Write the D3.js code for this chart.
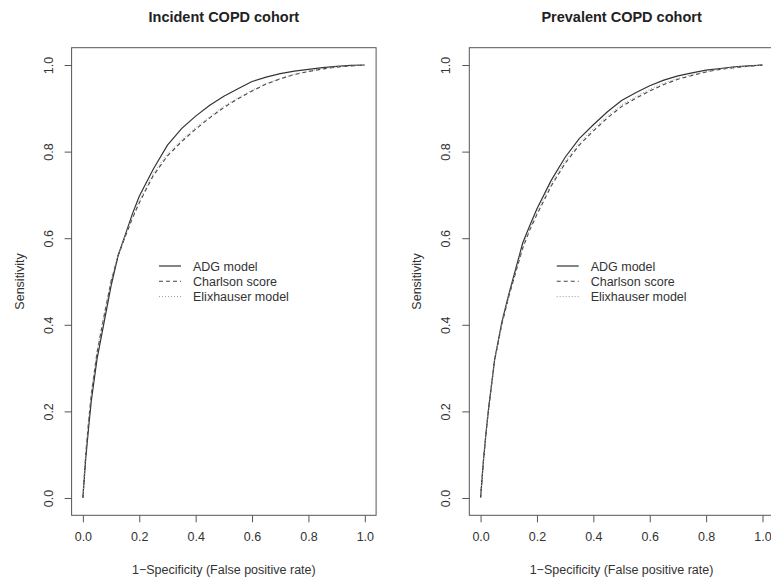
<!DOCTYPE html>
<html>
<head>
<meta charset="utf-8">
<script src="https://cdn.jsdelivr.net/npm/d3@7.9.0/dist/d3.min.js"></script>
<style>
  body { margin: 0; background: #fff; }
  svg { font-family: "Liberation Sans", Arial, sans-serif; }
</style>
</head>
<body>
<svg id="chart" width="771" height="583"></svg>
<script>
// shared false positive rate grid (x values)
const fpr = [0, 0.01, 0.02, 0.03, 0.05, 0.075, 0.1, 0.125, 0.15, 0.175, 0.2, 0.25, 0.3, 0.35,
  0.4, 0.45, 0.5, 0.55, 0.6, 0.65, 0.7, 0.75, 0.8, 0.85, 0.9, 0.95, 1];

// incident cohort sensitivities
const incidentADG = [0, 0.09, 0.16, 0.225, 0.32, 0.405, 0.49, 0.56, 0.607, 0.655, 0.697, 0.76, 0.815, 0.853,
  0.882, 0.907, 0.928, 0.945, 0.962, 0.972, 0.98, 0.986, 0.99, 0.994, 0.997, 0.999, 1];
const incidentCharlson = [0, 0.1, 0.175, 0.24, 0.335, 0.42, 0.5, 0.56, 0.603, 0.645, 0.682, 0.745, 0.79, 0.823,
  0.852, 0.878, 0.902, 0.922, 0.94, 0.956, 0.968, 0.978, 0.985, 0.991, 0.995, 0.998, 1];
const incidentElix = [0, 0.105, 0.18, 0.245, 0.34, 0.425, 0.503, 0.562, 0.606, 0.648, 0.686, 0.75, 0.795, 0.827,
  0.856, 0.881, 0.905, 0.924, 0.942, 0.957, 0.969, 0.979, 0.986, 0.992, 0.996, 0.998, 1];

// prevalent cohort sensitivities
const prevalentADG = [0, 0.085, 0.155, 0.215, 0.32, 0.405, 0.47, 0.53, 0.59, 0.63, 0.668, 0.733, 0.787, 0.83,
  0.862, 0.892, 0.918, 0.936, 0.952, 0.965, 0.975, 0.982, 0.988, 0.992, 0.996, 0.998, 1];
const prevalentCharlson = [0, 0.085, 0.155, 0.215, 0.318, 0.4, 0.465, 0.522, 0.578, 0.62, 0.655, 0.72, 0.773, 0.815,
  0.848, 0.878, 0.904, 0.923, 0.94, 0.955, 0.967, 0.976, 0.984, 0.99, 0.994, 0.997, 1];
const prevalentElix = [0, 0.087, 0.157, 0.217, 0.32, 0.402, 0.467, 0.525, 0.582, 0.624, 0.66, 0.725, 0.778, 0.82,
  0.853, 0.883, 0.908, 0.927, 0.944, 0.958, 0.969, 0.978, 0.985, 0.99, 0.995, 0.997, 1];

const ticks = [0, 0.2, 0.4, 0.6, 0.8, 1.0];
const seriesNames = ["ADG model", "Charlson score", "Elixhauser model"];

const styles = [
  { stroke: "#333", dash: null, width: 1.2 },
  { stroke: "#444", dash: "4,3", width: 1.1 },
  { stroke: "#999", dash: "1,2", width: 1 }
];

const svg = d3.select("#chart");

function drawPanel(left, title, series) {
  // R-style 4% padding around [0,1]
  const x = d3.scaleLinear().domain([-0.04, 1.04]).range([left, left + 304.5]);
  const y = d3.scaleLinear().domain([-0.04, 1.04]).range([515.3, 47.7]);

  const g = svg.append("g");

  // frame
  g.append("rect")
    .attr("x", x(-0.04)).attr("y", y(1.04))
    .attr("width", x(1.04) - x(-0.04)).attr("height", y(-0.04) - y(1.04))
    .attr("fill", "none").attr("stroke", "#555").attr("stroke-width", 1);

  // x axis
  const xa = g.append("g")
    .attr("transform", `translate(0,${y(-0.04)})`)
    .call(d3.axisBottom(x).tickValues(ticks).tickFormat(d3.format(".1f")).tickSize(7).tickPadding(10));
  xa.select(".domain").remove();
  xa.selectAll("line").attr("stroke", "#555");
  xa.selectAll("text").attr("font-size", 12.5).attr("fill", "#333");

  // y axis
  const ya = g.append("g")
    .attr("transform", `translate(${x(-0.04)},0)`)
    .call(d3.axisLeft(y).tickValues(ticks).tickFormat(d3.format(".1f")).tickSize(7));
  ya.select(".domain").remove();
  ya.selectAll("line").attr("stroke", "#555");
  ya.selectAll("text").remove();
  ya.selectAll(".tick").append("text")
    .attr("transform", "translate(-19,0) rotate(-90)")
    .attr("text-anchor", "middle")
    .attr("font-size", 12.5).attr("fill", "#333")
    .text(d => d3.format(".1f")(d));

  // title and labels
  g.append("text")
    .attr("x", (x(-0.04) + x(1.04)) / 2).attr("y", 22)
    .attr("text-anchor", "middle").attr("font-weight", "bold").attr("font-size", 14.5)
    .attr("fill", "#222").text(title);
  g.append("text")
    .attr("x", (x(-0.04) + x(1.04)) / 2).attr("y", 574)
    .attr("text-anchor", "middle").attr("font-size", 12.5).attr("fill", "#333")
    .text("1\u2212Specificity (False positive rate)");
  g.append("text")
    .attr("transform", `translate(${x(-0.04) - 48},${(y(0) + y(1)) / 2}) rotate(-90)`)
    .attr("text-anchor", "middle").attr("font-size", 12.5).attr("fill", "#333")
    .text("Sensitivity");

  // curves
  const line = d3.line().x(d => x(d[0])).y(d => y(d[1]));
  series.forEach((vals, i) => {
    g.append("path")
      .datum(fpr.map((f, k) => [f, vals[k]]))
      .attr("d", line)
      .attr("fill", "none")
      .attr("stroke", styles[i].stroke)
      .attr("stroke-width", styles[i].width)
      .attr("stroke-dasharray", styles[i].dash);
  });

  // legend
  const lx = x(0.27);
  seriesNames.forEach((name, i) => {
    const ly = 266 + i * 15.3;
    g.append("line")
      .attr("x1", lx).attr("x2", lx + 22).attr("y1", ly).attr("y2", ly)
      .attr("stroke", styles[i].stroke).attr("stroke-width", styles[i].width)
      .attr("stroke-dasharray", styles[i].dash);
    g.append("text")
      .attr("x", lx + 34).attr("y", ly + 4.5)
      .attr("font-size", 12.5).attr("fill", "#333").text(name);
  });
}

drawPanel(71.6, "Incident COPD cohort", [incidentADG, incidentCharlson, incidentElix]);
drawPanel(469.3, "Prevalent COPD cohort", [prevalentADG, prevalentCharlson, prevalentElix]);
</script>
</body>
</html>
